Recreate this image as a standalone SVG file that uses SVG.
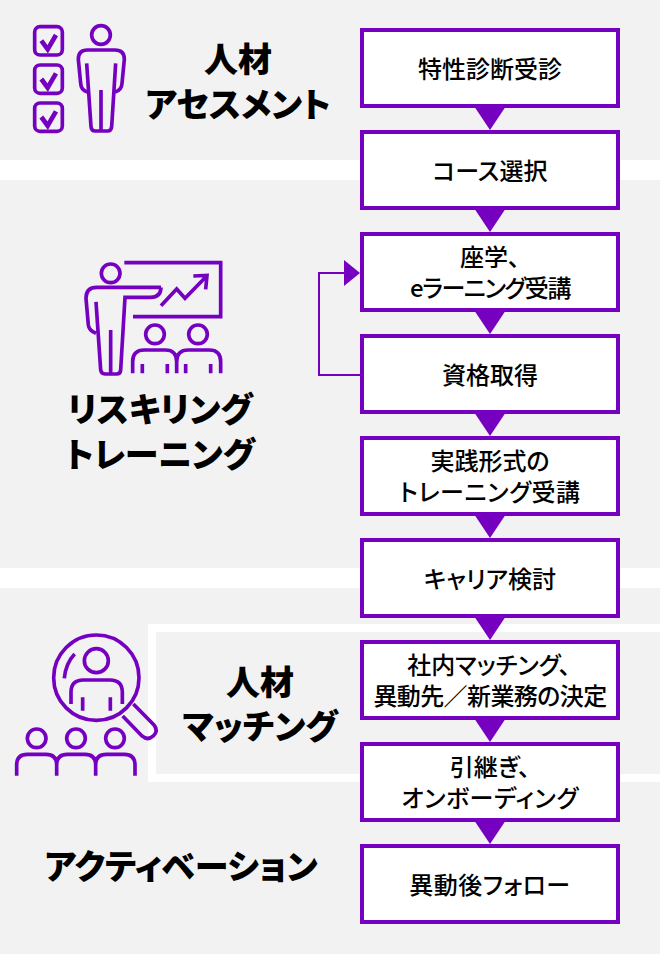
<svg xmlns="http://www.w3.org/2000/svg" width="660" height="954" viewBox="0 0 660 954">
<style>
text{font-family:"Noto Sans CJK JP","Noto Sans",sans-serif;text-anchor:middle;fill:#000;font-feature-settings:"palt"}
.b{fill:#fff;stroke:#7500c0;stroke-width:4}
.t{font-size:24px;font-weight:500}
.l{font-size:34px;font-weight:900}
.i{fill:none;stroke:#7500c0;stroke-width:11}
.c{stroke-width:14}
.a{fill:#7500c0}
</style>
<rect id="background" width="660" height="954" fill="#f2f2f2"/>
<rect x="0" y="160" width="660" height="20" fill="#fff"/>
<rect x="0" y="568" width="660" height="20" fill="#fff"/>
<path d="M664 628H152V778H664" fill="none" stroke="#fff" stroke-width="8"/>

<g id="connectors">
<path d="M360 375H319V273H346" fill="none" stroke="#7500c0" stroke-width="2"/>
<path class="a" d="M344 260L360 273L344 286Z"/>
<path class="a" d="M474 106H506L490 130Z"/>
<path class="a" d="M474 208H506L490 232Z"/>
<path class="a" d="M474 310H506L490 334Z"/>
<path class="a" d="M474 412H506L490 436Z"/>
<path class="a" d="M474 514H506L490 538Z"/>
<path class="a" d="M474 616H506L490 640Z"/>
<path class="a" d="M474 718H506L490 742Z"/>
<path class="a" d="M474 820H506L490 844Z"/>
</g>

<g id="node-1"><rect class="b" x="362" y="30" width="256" height="76"/><text class="t" x="490" y="78">特性診断受診</text></g>
<g id="node-2"><rect class="b" x="362" y="132" width="256" height="76"/><text class="t" x="490" y="180">コース選択</text></g>
<g id="node-3"><rect class="b" x="362" y="234" width="256" height="76"/><text class="t" x="490" y="266">座学、</text><text class="t" x="490" y="297" letter-spacing="-1.4">eラーニング受講</text></g>
<g id="node-4"><rect class="b" x="362" y="336" width="256" height="76"/><text class="t" x="490" y="384">資格取得</text></g>
<g id="node-5"><rect class="b" x="362" y="438" width="256" height="76"/><text class="t" x="490" y="470">実践形式の</text><text class="t" x="490" y="501" letter-spacing=".6">トレーニング受講</text></g>
<g id="node-6"><rect class="b" x="362" y="540" width="256" height="76"/><text class="t" x="490" y="588">キャリア検討</text></g>
<g id="node-7"><rect class="b" x="362" y="642" width="256" height="76"/><text class="t" x="489" y="674">社内マッチング、</text><text class="t" x="490" y="705" letter-spacing="-.6">異動先／新業務の決定</text></g>
<g id="node-8"><rect class="b" x="362" y="744" width="256" height="76"/><text class="t" x="490" y="776">引継ぎ、</text><text class="t" x="490" y="807" letter-spacing=".6">オンボーディング</text></g>
<g id="node-9"><rect class="b" x="362" y="846" width="256" height="76"/><text class="t" x="490" y="894" letter-spacing=".5">異動後フォロー</text></g>

<g id="label-assessment"><text class="l" x="238" y="72">人材</text><text class="l" x="238" y="117">アセスメント</text></g>
<g id="label-reskilling"><text class="l" x="160" y="422">リスキリング</text><text class="l" x="160" y="467">トレーニング</text></g>
<g id="label-matching"><text class="l" x="260" y="695">人材</text><text class="l" x="260" y="739">マッチング</text></g>
<g id="label-activation"><text class="l" x="181" y="879">アクティベーション</text></g>

<g id="icon-assessment" class="i" transform="scale(.33333)">
<rect x="104" y="80" width="83" height="85" rx="16"/><rect x="104" y="195" width="83" height="85" rx="16"/><rect x="104" y="309" width="83" height="85" rx="16"/>
<path class="c" d="M124 122L143 148L168 105M124 237L143 263L168 220M124 351L143 377L168 334"/>
<circle cx="303" cy="105" r="28"/>
<path d="M260 190L273 380Q274 393 285 393H323Q334 393 335 380L347 190M303 270V393"/>
<path d="M262 276Q243 270 242 250L235 178Q235 150 262 150H345Q373 150 373 178L366 250Q365 270 345 276"/>
</g>

<g id="icon-reskilling" class="i" transform="translate(60 240) scale(.33333)">
<circle cx="152" cy="100" r="28"/>
<path d="M193 68H482V230H219"/>
<path d="M303 142H110Q78 142 78 175L85 255Q87 272 108 280M108 186L122 390Q123 402 135 402H170Q181 402 182 390L195 172H272Q302 172 303 142M152 270V402"/>
<path d="M303 197L350 147L375 175L438 110M400 108L441 106L437 148"/>
<circle cx="285" cy="283" r="28"/><circle cx="414" cy="283" r="28"/>
<path d="M218 400V365Q218 330 253 330H316Q350 330 350 365V400M350 365Q350 330 385 330H448Q482 330 482 365V400M247 372V400M322 372V400M377 372V400M452 372V400"/>
</g>

<g id="icon-matching" class="i" transform="translate(0 610) scale(.33333)">
<circle cx="289" cy="203" r="128"/>
<circle cx="289" cy="152" r="36"/>
<path d="M213 282V247Q213 210 250 210H330Q367 210 367 247V282M248 262V302M331 262V302"/>
<path d="M193 205Q197 160 224 132"/>
<path d="M400 282L462 345Q476 362 460 378Q443 393 426 378L368 318"/>
<circle cx="110" cy="385" r="28"/><circle cx="228" cy="385" r="28"/><circle cx="345" cy="385" r="28"/>
<path d="M50 497V465Q50 433 82 433H138Q170 433 170 465V497M170 465Q170 433 202 433H255Q287 433 287 465V497M287 465Q287 433 319 433H373Q405 433 405 465V497"/>
</g>
</svg>
